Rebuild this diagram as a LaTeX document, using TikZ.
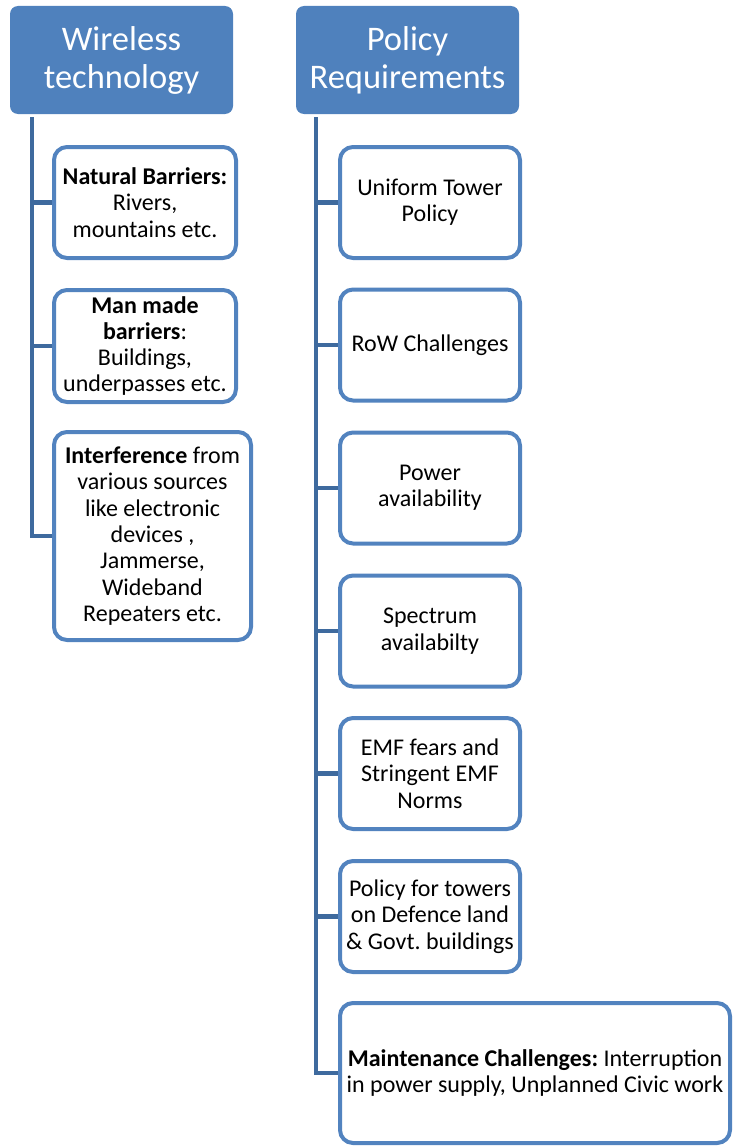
\documentclass[tikz,border=0pt]{standalone}
\usepackage{fontspec}
\setmainfont{Carlito}
\frenchspacing
\definecolor{hdr}{HTML}{4F81BD}
\definecolor{bord}{HTML}{5283BF}
\definecolor{conn}{HTML}{3E6A9E}
\begin{document}
\begin{tikzpicture}[x=1pt,y=-1pt,
  header/.style={fill=hdr,draw=none,rounded corners=8pt,text=white,align=center,
    font=\fontsize{34.5}{38}\selectfont,inner sep=0pt,minimum width=223pt,minimum height=108pt},
  box/.style={draw=bord,line width=4pt,fill=white,rounded corners=13pt,align=center,
    font=\fontsize{24}{26.3}\selectfont,inner sep=0pt,minimum width=180pt,minimum height=111pt},
  link/.style={draw=conn,line width=4.5pt,line join=miter}]
\useasboundingbox (0,0) rectangle (733,1148);
% headers
\node[header] (h1) at (121.5,60) {Wireless\\technology};
\node[header] (h2) at (407.5,60) {Policy\\Requirements};
% left boxes
\node[box,minimum width=182pt,minimum height=111pt] (b1) at (145,202.5) {\textbf{Natural Barriers:}\\Rivers,\\mountains etc.};
\node[box,minimum width=182pt,minimum height=112pt] (b2) at (145,346) {\textbf{Man made}\\\textbf{barriers}:\\Buildings,\\underpasses etc.};
\node[box,minimum width=197pt,minimum height=208pt] (b3) at (152.5,536) {\textbf{Interference} from\\various sources\\like electronic\\devices ,\\Jammerse,\\Wideband\\Repeaters etc.};
% right boxes
\node[box] (r1) at (430,202.5) {Uniform Tower\\Policy};
\node[box] (r2) at (430,345) {RoW Challenges};
\node[box] (r3) at (430,488) {Power\\availability};
\node[box] (r4) at (430,631) {Spectrum\\availabilty};
\node[box] (r5) at (430,773.5) {EMF fears and\\Stringent EMF\\Norms};
\node[box] (r6) at (430,916.5) {Policy for towers\\on Defence land\\\& Govt. buildings};
\node[box,minimum width=390pt,minimum height=140pt] (r7) at (535,1073) {\textbf{Maintenance Challenges:} Interruption\\in power supply, Unplanned Civic work};
% connectors
\coordinate (lt) at (32,117);
\coordinate (rt) at (316,117);
\draw[link] (lt) |- (b3.west);
\draw[link] (b1.west -| lt) -- (b1.west);
\draw[link] (b2.west -| lt) -- (b2.west);
\draw[link] (rt) |- (r7.west);
\foreach \n in {r1,r2,r3,r4,r5,r6}{\draw[link] (\n.west -| rt) -- (\n.west);}
\end{tikzpicture}
\end{document}
